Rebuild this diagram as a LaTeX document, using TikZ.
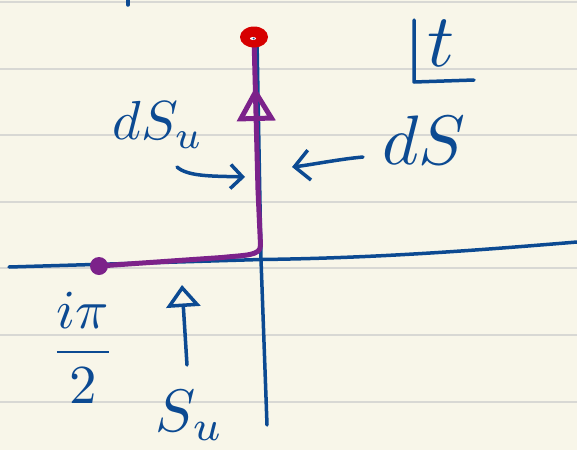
\documentclass[tikz,border=0pt]{standalone}
\usetikzlibrary{arrows.meta,decorations.markings,shapes.geometric}
\definecolor{paper}{RGB}{248,246,233}
\definecolor{ruleclr}{RGB}{216,216,212}
\definecolor{ink}{RGB}{12,74,146}
\definecolor{violetpen}{RGB}{124,34,138}
\definecolor{dotred}{RGB}{214,0,0}
\tikzset{
  ruleline/.style={draw=ruleclr,line width=2pt},
  bluepen/.style={draw=ink,line width=3.5pt,line cap=round,line join=round},
  purplepen/.style={draw=violetpen,line width=5pt,line cap=round,line join=round},
  hand/.style={text=ink,inner sep=0pt},
  barbtip/.style={-{Straight Barb[length=12pt,width=24pt]}},
  bigbarb/.style={-{Straight Barb[length=15pt,width=30pt]}},
  opentip/.style={-{Triangle[open,length=22pt,width=34pt]}},
}
\begin{document}
\begin{tikzpicture}[x=1pt,y=-1pt]
\fill[paper] (0,0) rectangle (577,450);
\useasboundingbox (0,0) rectangle (577,450);
% ruled paper
\foreach \yy in {2,68.6,135.2,201.8,268.4,335,401.6}
  \draw[ruleline] (0,\yy) -- (577,\yy);

% stray tick at top
\coordinate (tickA) at (128,0);
\coordinate (tickB) at (128,5);
\draw[bluepen] (tickA) -- (tickB);

% axes
\coordinate (hl) at (9,267);
\coordinate (o) at (261,259.5);
\coordinate (hr) at (577,242);
\coordinate (vtop) at (257,40);
\coordinate (vbot) at (267,425);
\draw[bluepen] (hl) -- (o) .. controls (380,258) and (480,250) .. (hr);
\draw[bluepen] (vtop) -- (o) -- (vbot);

% dots
\node[circle, fill=violetpen, minimum size=18pt, inner sep=0pt] (pdot) at (99,266) {};
\coordinate (rc) at (254,37);

% purple contour
\draw[purplepen, postaction={decorate},
  decoration={markings, mark=at position -50pt with {\arrow{Triangle[open,length=34pt,width=38pt]}}}]
  (pdot.center) -- (222,257.5) .. controls (245,255) and (261,256) .. (260.5,245)
  -- (258,190) -- (rc);

\node[ellipse, fill=dotred, minimum width=28pt, minimum height=21pt, inner sep=0pt] (rdot) at (rc) {};
\node[ellipse, fill=white, minimum width=6pt, minimum height=3pt, inner sep=0pt] (rdotw) at (253,38.5) {};
\node[circle, fill=ink, minimum size=2pt, inner sep=0pt] (rdotb) at (253.5,38.5) {};

% t-plane symbol
\coordinate (Ltop) at (414,20);
\coordinate (Lcorner) at (414,82);
\coordinate (Lend) at (474,80);
\draw[bluepen] (Ltop) -- (Lcorner) -- (Lend);
\node[hand, scale=7.5] (tlab) at (441,43) {$t$};

% labels
\node[hand, scale=5.5] (dsu) at (158,125) {$dS_u$};
\node[hand, scale=7] (ds) at (424,140) {$dS$};
\node[hand, scale=5.5] (frac) at (83,348) {$\displaystyle\frac{i\pi}{2}$};
\node[hand, scale=6] (su) at (190,415) {$S_u$};

% arrows
\coordinate (a1s) at (177,167);
\coordinate (a1e) at (245,177);
\draw[bluepen, barbtip] (a1s) .. controls (188,177) and (215,176) .. (a1e);
\coordinate (a2s) at (363,157);
\coordinate (a2e) at (292,167);
\draw[bluepen, bigbarb] (a2s) .. controls (340,159) and (310,165) .. (a2e);
\coordinate (a3s) at (187,365);
\coordinate (a3e) at (182,285);
\draw[bluepen, opentip] (a3s) -- (a3e);
\end{tikzpicture}
\end{document}
